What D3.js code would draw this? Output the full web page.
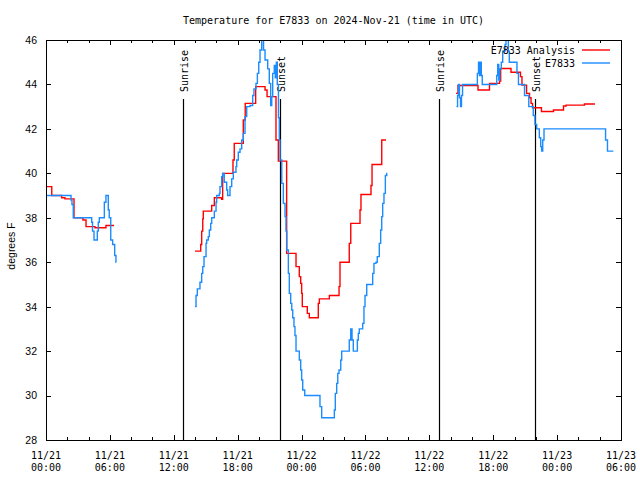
<!DOCTYPE html>
<html><head><meta charset="utf-8">
<script src="https://cdn.jsdelivr.net/npm/d3@7"></script>
<style>body{margin:0;background:#fff}</style>
</head><body><svg id="c" width="640" height="480"></svg>
<script>
const chartTitle = "Temperature for E7833 on 2024-Nov-21 (time in UTC)";
const yAxisLabel = "degrees F";
const startTime = Date.UTC(2024, 10, 21, 0, 0, 0);
const spanHours = 54;
const xMajorHours = [0, 6, 12, 18, 24, 30, 36, 42, 48, 54];
const xTickDays = ["11/21", "11/21", "11/21", "11/21", "11/22", "11/22", "11/22", "11/22", "11/23", "11/23"];
const xTickTimes = ["00:00", "06:00", "12:00", "18:00", "00:00", "06:00", "12:00", "18:00", "00:00", "06:00"];
const xMinorHours = [2, 4, 8, 10, 14, 16, 20, 22, 26, 28, 32, 34, 38, 40, 44, 46, 50, 52];
const yTicks = [28, 30, 32, 34, 36, 38, 40, 42, 44, 46];
const sunHours = [12.87, 21.98, 36.91, 45.92];
const sunLabels = ["Sunrise", "Sunset", "Sunrise", "Sunset"];
const seriesNames = ["E7833 Analysis", "E7833"];
const seriesColors = ["#ff0000", "#1a8cff"];

// E7833 Analysis (hours since 11/21 00:00 UTC, degrees F); null = gap
const analysisHours = [0, 0.54, 1.47, 1.78, 2.63, 3.47, 3.76, 4.6, 5.63, 6.39, 10,
  13.99, 14.53, 14.62, 14.72, 14.77, 15.56, 15.81, 16.5, 16.59, 17.56, 17.68, 18.53, 18.71, 19.69,
  20.57, 20.76, 21.6, 21.82, 22.6, 23.48, 23.79, 23.92, 24.01, 24.07, 24.54, 24.73, 25.57, 25.67,
  26.61, 27.52, 27.61, 28.48, 28.62, 29.49, 29.58, 30.52, 30.62, 31.53, 31.93, 35,
  38.5, 38.69, 40.57, 41.65, 42.59, 42.7, 43.67, 44.56, 44.7, 45.13, 45.41, 45.55, 45.69, 46.53,
  47.66, 48.6, 48.84, 50.57, 51.49];
const analysisTemps = [39.4, 39.0, 38.9, 38.85, 38.0, 37.9, 37.6, 37.55, 37.65, 37.65, null,
  36.5, 36.8, 37.4, 37.95, 38.3, 38.55, 38.9, 38.83, 40.0, 40.6, 41.35, 42.4, 43.15, 43.9,
  43.75, 43.45, 41.5, 40.55, 36.4, 35.8, 35.35, 35.05, 34.6, 34.0, 33.7, 33.5, 34.15, 34.35,
  34.5, 34.9, 36.0, 36.85, 37.75, 38.35, 39.05, 39.45, 40.4, 41.5, 41.5, null,
  43.6, 43.95, 43.75, 44.05, 44.15, 44.72, 44.55, 44.35, 43.97, 43.6, 43.4, 43.15, 42.95, 42.78,
  42.85, 43.03, 43.07, 43.12, 43.15];

// E7833 observations
const obsHours = [0, 2.35, 2.44, 2.56, 4.29, 4.37, 4.51, 4.82, 4.91, 5.01, 5.48, 5.63, 5.85, 5.94,
  6.08, 6.26, 6.45, 6.57, 6.6, 10,
  13.99, 14.09, 14.21, 14.46, 14.62, 14.72, 14.84, 15.03, 15.09, 15.24, 15.34, 15.47, 15.56, 15.81,
  15.97, 16.03, 16.28, 16.34, 16.5, 16.59, 16.74, 16.97, 17.06, 17.28, 17.44, 17.59, 17.84, 17.91,
  18.06, 18.22, 18.38, 18.53, 18.69, 18.85, 19.16, 19.41, 19.53, 19.72, 19.85, 19.98, 20.1, 20.26,
  20.43, 20.57, 20.82, 20.97, 21.1, 21.2, 21.29, 21.44, 21.53, 21.63, 21.72, 21.83, 21.91, 21.98,
  22.14, 22.29, 22.45, 22.54, 22.61, 22.76, 22.85, 22.98, 23.08, 23.17, 23.29, 23.38, 23.48, 23.79,
  23.92, 24.01, 24.11, 24.3, 25.73, 25.89, 27.08, 27.17, 27.3, 27.4, 27.52, 27.68, 27.77, 28.48,
  28.62, 28.74, 28.86, 29.24, 29.33, 29.42, 29.74, 29.86, 29.96, 30.12, 30.68, 30.8, 30.99, 31.11,
  31.3, 31.43, 31.53, 31.62, 31.74, 31.87, 32.0, 32.05, 35,
  38.55, 38.65, 38.74, 38.83, 38.93, 39.02, 39.12, 40.51, 40.62, 40.71, 40.79, 40.88, 40.97, 42.33,
  42.42, 42.52, 42.61, 42.76, 42.89, 43.11, 43.2, 43.42, 43.51, 44.23, 44.37, 44.94, 45.34, 45.76,
  45.92, 46.08, 46.33, 46.46, 46.55, 46.65, 46.77, 52.55, 52.73, 53.28];
const obsTemps = [39.0, 38.8, 38.6, 38.0, 37.8, 37.4, 37.0, 37.4, 37.8, 38.0, 38.7, 39.0, 38.35, 38.0,
  37.0, 36.8, 36.3, 36.0, 36.0, null,
  34.0, 34.5, 34.8, 35.1, 35.5, 35.8, 36.25, 36.85, 37.0, 37.15, 37.45, 37.75, 38.0, 38.3,
  38.7, 39.0, 39.1, 39.4, 39.85, 40.0, 39.6, 39.25, 39.0, 39.4, 39.75, 40.05, 40.3, 40.6,
  40.95, 41.1, 41.5, 41.8, 42.55, 43.0, 43.05, 43.5, 43.8, 44.05, 44.5, 45.0, 45.55, 46.0,
  45.55, 45.1, 44.7, 44.05, 43.05, 43.45, 44.5, 44.85, 44.3, 45.0, 44.0, 42.5, 41.5, 40.6,
  39.55, 38.65, 38.05, 37.4, 36.55, 35.5, 34.6, 34.15, 33.85, 33.5, 33.1, 32.7, 32.0, 31.6,
  31.15, 30.7, 30.25, 30.0, 29.5, 29.0, 29.35, 30.1, 30.55, 31.0, 31.15, 31.6, 32.0, 32.5,
  33.0, 32.5, 32.0, 32.5, 32.8, 33.0, 33.25, 34.0, 34.5, 35.0, 35.5, 35.95, 36.0, 36.25,
  36.85, 37.45, 38.05, 38.65, 39.1, 39.9, 40.0, 40.0, null,
  43.0, 43.5, 44.0, 43.4, 43.0, 43.5, 44.0, 44.5, 45.0, 44.4, 45.0, 44.4, 44.0, 44.4,
  44.9, 44.2, 44.7, 45.0, 45.5, 45.8, 46.0, 45.5, 45.0, 44.5, 44.0, 43.5, 43.0, 42.6,
  42.2, 42.0, 41.6, 41.2, 41.0, 41.5, 42.0, 41.5, 41.0, 41.0];

const W = 640, H = 480;
const M = {left: 46, right: 621, top: 40, bottom: 440};
const toDate = h => new Date(startTime + h * 3600e3);

const svg = d3.select("#c");
const x = d3.scaleUtc().domain([toDate(0), toDate(spanHours)]).range([M.left, M.right]);
const y = d3.scaleLinear().domain([28, 46]).range([M.bottom, M.top]);

const mono = "'DejaVu Sans Mono', 'Liberation Mono', monospace";
const sans = "'Liberation Sans', Arial, sans-serif";

svg.append("rect").attr("width", W).attr("height", H).attr("fill", "#fff");

// title
svg.append("text").attr("x", (M.left + M.right) / 2).attr("y", 20)
  .attr("text-anchor", "middle").attr("dominant-baseline", "central")
  .style("font-family", mono).style("font-size", "10px").text(chartTitle);

// y label
svg.append("text").attr("transform", `translate(11,${(M.top + M.bottom) / 2 + 6}) rotate(-90)`)
  .attr("text-anchor", "middle").attr("dominant-baseline", "central")
  .style("font-family", sans).style("font-size", "10.5px").text(yAxisLabel);

function styleAxis(g) {
  g.select(".domain").remove();
  g.selectAll("line").attr("stroke", "#000").attr("shape-rendering", "crispEdges");
}

// axes
svg.append("g").attr("transform", `translate(0,${M.bottom})`)
  .call(d3.axisBottom(x).tickValues(xMajorHours.map(toDate)).tickSize(-5).tickFormat(""))
  .call(styleAxis);
svg.append("g").attr("transform", `translate(0,${M.bottom})`)
  .call(d3.axisBottom(x).tickValues(xMinorHours.map(toDate)).tickSize(-3).tickFormat(""))
  .call(styleAxis);
svg.append("g").attr("transform", `translate(0,${M.top})`)
  .call(d3.axisTop(x).tickValues(xMajorHours.map(toDate)).tickSize(-5).tickFormat(""))
  .call(styleAxis);
svg.append("g").attr("transform", `translate(0,${M.top})`)
  .call(d3.axisTop(x).tickValues(xMinorHours.map(toDate)).tickSize(-3).tickFormat(""))
  .call(styleAxis);
svg.append("g").attr("transform", `translate(${M.left},0)`)
  .call(d3.axisLeft(y).tickValues(yTicks).tickSize(-5).tickPadding(9).tickFormat(d3.format("d")))
  .call(styleAxis)
  .call(g => g.selectAll("text").style("font-family", sans).style("font-size", "10.5px").attr("fill", "#000"));
svg.append("g").attr("transform", `translate(${M.right},0)`)
  .call(d3.axisRight(y).tickValues(yTicks).tickSize(-5).tickFormat(""))
  .call(styleAxis);

// x labels (two lines)
const xl = svg.append("g");
xMajorHours.forEach((h, i) => {
  const t = xl.append("text").attr("x", x(toDate(h))).attr("text-anchor", "middle")
    .style("font-family", mono).style("font-size", "10px");
  t.append("tspan").attr("x", x(toDate(h))).attr("y", 459).text(xTickDays[i]);
  t.append("tspan").attr("x", x(toDate(h))).attr("y", 471).text(xTickTimes[i]);
});

// sunrise / sunset
sunHours.forEach((h, i) => {
  const sx = Math.round(x(toDate(h))) + 0.5;
  svg.append("line").attr("x1", sx).attr("x2", sx).attr("y1", 99).attr("y2", M.bottom)
    .attr("stroke", "#000").attr("stroke-width", 1.2);
  svg.append("text").attr("transform", `translate(${sx + 1},92) rotate(-90)`)
    .attr("text-anchor", "start").attr("dominant-baseline", "central")
    .style("font-family", mono).style("font-size", "10px").text(sunLabels[i]);
});

// data lines
const clipId = "plotclip";
svg.append("clipPath").attr("id", clipId).append("rect")
  .attr("x", M.left).attr("y", M.top).attr("width", M.right - M.left).attr("height", M.bottom - M.top);

const line = d3.line().defined(d => d.v !== null)
  .x(d => x(toDate(d.h))).y(d => y(d.v)).curve(d3.curveStepAfter);

const analysis = analysisHours.map((h, i) => ({h, v: analysisTemps[i]}));
const obs = obsHours.map((h, i) => ({h, v: obsTemps[i]}));

svg.append("path").datum(analysis).attr("d", line).attr("fill", "none")
  .attr("stroke", seriesColors[0]).attr("stroke-width", 1.4).attr("clip-path", `url(#${clipId})`);
svg.append("path").datum(obs).attr("d", line).attr("fill", "none")
  .attr("stroke", seriesColors[1]).attr("stroke-width", 1.4).attr("clip-path", `url(#${clipId})`);

// frame
svg.append("rect").attr("x", M.left + 0.5).attr("y", M.top + 0.5)
  .attr("width", M.right - M.left).attr("height", M.bottom - M.top)
  .attr("fill", "none").attr("stroke", "#000").attr("shape-rendering", "crispEdges");

// legend
seriesNames.forEach((name, i) => {
  const ly = 50 + i * 13;
  svg.append("text").attr("x", 575).attr("y", ly).attr("text-anchor", "end")
    .attr("dominant-baseline", "central").style("font-family", mono).style("font-size", "10px").text(name);
  svg.append("line").attr("x1", 582).attr("x2", 610).attr("y1", ly).attr("y2", ly)
    .attr("stroke", seriesColors[i]).attr("stroke-width", 1.4);
});
</script>
</body></html>
